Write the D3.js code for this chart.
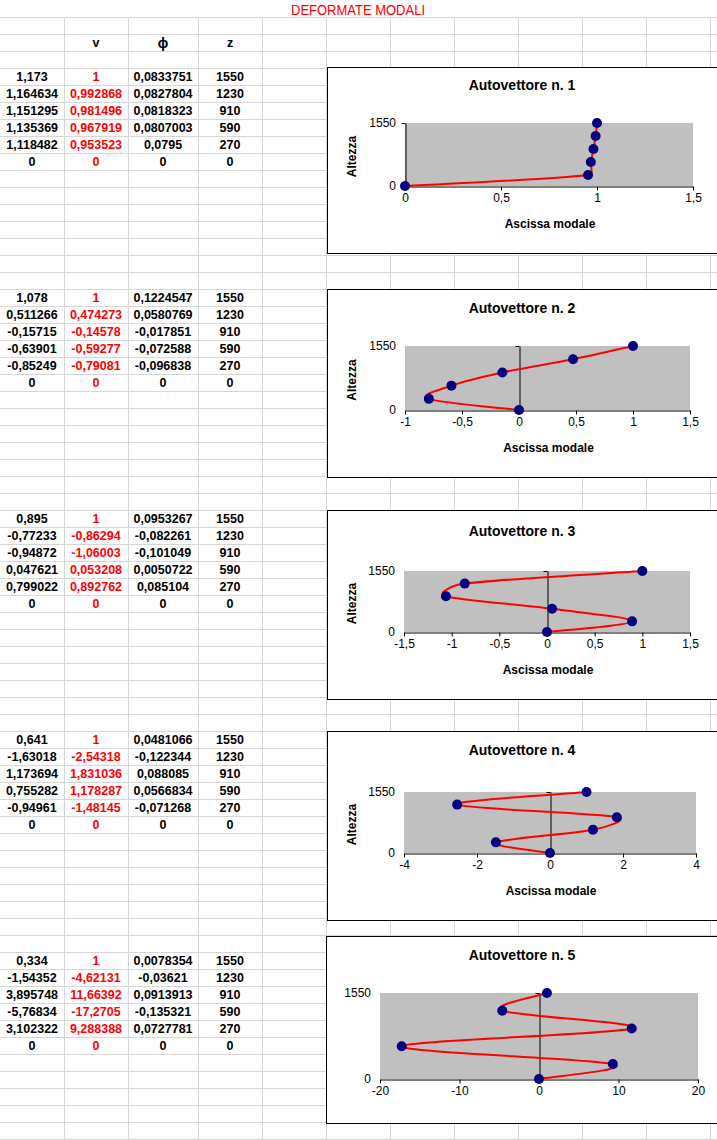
<!DOCTYPE html>
<html>
<head>
<meta charset="utf-8">
<script src="https://cdn.jsdelivr.net/npm/d3@7"></script>
<style>
  html, body { margin: 0; padding: 0; background: #ffffff; }
  svg { display: block; }
  text { font-family: "Liberation Sans", Arial, sans-serif; }
</style>
</head>
<body>
<script>
// ---------------- DATA ----------------
const pageTitle = "DEFORMATE MODALI";
const headerLabels = ["", "v", "\u03d5", "z"];
const heights = [1550, 1230, 910, 590, 270, 0];

const mode1A   = [1.173, 1.164634, 1.151295, 1.135369, 1.118482, 0];
const mode1V   = [1, 0.992868, 0.981496, 0.967919, 0.953523, 0];
const mode1Phi = [0.0833751, 0.0827804, 0.0818323, 0.0807003, 0.0795, 0];

const mode2A   = [1.078, 0.511266, -0.15715, -0.63901, -0.85249, 0];
const mode2V   = [1, 0.474273, -0.14578, -0.59277, -0.79081, 0];
const mode2Phi = [0.1224547, 0.0580769, -0.017851, -0.072588, -0.096838, 0];

const mode3A   = [0.895, -0.77233, -0.94872, 0.047621, 0.799022, 0];
const mode3V   = [1, -0.86294, -1.06003, 0.053208, 0.892762, 0];
const mode3Phi = [0.0953267, -0.082261, -0.101049, 0.0050722, 0.085104, 0];

const mode4A   = [0.641, -1.63018, 1.173694, 0.755282, -0.94961, 0];
const mode4V   = [1, -2.54318, 1.831036, 1.178287, -1.48145, 0];
const mode4Phi = [0.0481066, -0.122344, 0.088085, 0.0566834, -0.071268, 0];

const mode5A   = [0.334, -1.54352, 3.895748, -5.76834, 3.102322, 0];
const mode5V   = [1, -4.62131, 11.66392, -17.2705, 9.288388, 0];
const mode5Phi = [0.0078354, -0.03621, 0.0913913, -0.135321, 0.0727781, 0];

const chartTitles = ["Autovettore n. 1", "Autovettore n. 2", "Autovettore n. 3", "Autovettore n. 4", "Autovettore n. 5"];
const xTicks1 = [0, 0.5, 1, 1.5];
const xTicks2 = [-1, -0.5, 0, 0.5, 1, 1.5];
const xTicks3 = [-1.5, -1, -0.5, 0, 0.5, 1, 1.5];
const xTicks4 = [-4, -2, 0, 2, 4];
const xTicks5 = [-20, -10, 0, 10, 20];
const yTicks = [0, 1550];
const xAxisTitle = "Ascissa modale";
const yAxisTitle = "Altezza";

// ---------------- LAYOUT ----------------
const W = 717, H = 1140;
const ROW = 17;
const colLines = [64, 128, 198, 262, 326, 390, 454, 518, 582, 646, 710];
const colCenters = [32, 96, 163, 230];
const blockStartRows = [5, 18, 31, 44, 57];

const modes = [
  {A: mode1A, V: mode1V, P: mode1Phi, ticks: xTicks1},
  {A: mode2A, V: mode2V, P: mode2Phi, ticks: xTicks2},
  {A: mode3A, V: mode3V, P: mode3Phi, ticks: xTicks3},
  {A: mode4A, V: mode4V, P: mode4Phi, ticks: xTicks4},
  {A: mode5A, V: mode5V, P: mode5Phi, ticks: xTicks5}
];

const chartLayout = [
  {bx: 327, by: 67,  bh: 186, pl: 405, pr: 693, pt: 123, pb: 186, ty: 85,  axisTitles: true},
  {bx: 327, by: 289, bh: 188, pl: 405, pr: 690, pt: 346, pb: 410, ty: 308, axisTitles: true},
  {bx: 327, by: 510, bh: 189, pl: 404, pr: 690, pt: 571, pb: 632, ty: 531, axisTitles: true},
  {bx: 327, by: 731, bh: 189, pl: 404, pr: 696, pt: 792, pb: 853, ty: 750, axisTitles: true},
  {bx: 326, by: 936, bh: 187, pl: 380, pr: 698, pt: 993, pb: 1079, ty: 955, axisTitles: false}
];

const fmt = d => String(d).replace(".", ",");
const rowCenter = r => ROW * (r - 1) + 9;

// Spreadsheet-style smoothed line (Bezier with 1/6 tangents, limited to half a segment)
function smoothPath(P) {
  const p = d3.path();
  const dist = (a, b) => Math.hypot(b[0] - a[0], b[1] - a[1]);
  p.moveTo(P[0][0], P[0][1]);
  for (let i = 0; i < P.length - 1; i++) {
    const P0 = P[Math.max(i - 1, 0)], P1 = P[i], P2 = P[i + 1], P3 = P[Math.min(i + 2, P.length - 1)];
    const d12 = dist(P1, P2), d02 = dist(P0, P2), d13 = dist(P1, P3);
    let f1 = 1 / 6, f2 = 1 / 6;
    if (d02 / 6 > d12 / 2 && d02 > 0) f1 = d12 / (2 * d02);
    if (d13 / 6 > d12 / 2 && d13 > 0) f2 = d12 / (2 * d13);
    const c1 = [P1[0] + f1 * (P2[0] - P0[0]), P1[1] + f1 * (P2[1] - P0[1])];
    const c2 = [P2[0] - f2 * (P3[0] - P1[0]), P2[1] - f2 * (P3[1] - P1[1])];
    p.bezierCurveTo(c1[0], c1[1], c2[0], c2[1], P2[0], P2[1]);
  }
  return p.toString();
}

const svg = d3.select("body").append("svg").attr("width", W).attr("height", H);
svg.append("rect").attr("width", W).attr("height", H).attr("fill", "#fff");

// ---------------- SPREADSHEET GRID ----------------
const grid = svg.append("g").attr("stroke", "#d6d6d6").attr("stroke-width", 1);
d3.range(1, Math.ceil(H / ROW) + 1).forEach(k => {
  grid.append("line").attr("x1", 0).attr("x2", W).attr("y1", ROW * k + 0.5).attr("y2", ROW * k + 0.5);
});
colLines.forEach(x => {
  grid.append("line").attr("x1", x + 0.5).attr("x2", x + 0.5).attr("y1", ROW).attr("y2", H);
});

// title
svg.append("text").attr("x", 358).attr("y", 9).attr("text-anchor", "middle")
  .attr("dominant-baseline", "central").attr("fill", "#ff0000")
  .attr("font-size", 15.5).attr("textLength", 134).attr("lengthAdjust", "spacingAndGlyphs")
  .text(pageTitle);

// header
headerLabels.forEach((h, i) => {
  if (!h) return;
  svg.append("text").attr("x", colCenters[i]).attr("y", rowCenter(3))
    .attr("text-anchor", "middle").attr("dominant-baseline", "central")
    .attr("font-weight", "bold").attr("font-size", i === 2 ? 14 : 12.5)
    .attr("font-family", i === 2 ? "DejaVu Sans" : null)
    .text(h);
});

// table values
modes.forEach((m, bi) => {
  const r0 = blockStartRows[bi];
  heights.forEach((z, j) => {
    const cy = rowCenter(r0 + j);
    const cells = [m.A[j], m.V[j], m.P[j], z];
    cells.forEach((val, c) => {
      svg.append("text").attr("x", colCenters[c]).attr("y", cy)
        .attr("text-anchor", "middle").attr("dominant-baseline", "central")
        .attr("font-weight", "bold").attr("font-size", 12.5)
        .attr("fill", c === 1 ? "#ff0000" : "#000")
        .text(fmt(val));
    });
  });
});

// ---------------- CHARTS ----------------
modes.forEach((m, i) => {
  const L = chartLayout[i];
  const g = svg.append("g");
  g.append("rect").attr("x", L.bx + 0.5).attr("y", L.by + 0.5)
    .attr("width", W - L.bx + 20).attr("height", L.bh)
    .attr("fill", "#fff").attr("stroke", "#000").attr("stroke-width", 1);

  const ticks = m.ticks;
  const x = d3.scaleLinear().domain([ticks[0], ticks[ticks.length - 1]]).range([L.pl, L.pr]);
  const y = d3.scaleLinear().domain([0, 1550]).range([L.pb, L.pt]);

  g.append("rect").attr("x", L.pl).attr("y", L.pt).attr("width", L.pr - L.pl).attr("height", L.pb - L.pt)
    .attr("fill", "#c0c0c0");

  // x axis
  const xa = g.append("g").attr("transform", `translate(0,${L.pb + 0.5})`)
    .call(d3.axisBottom(x).tickValues(ticks).tickFormat(fmt).tickSize(4).tickSizeOuter(0).tickPadding(3));
  xa.attr("font-size", 12).attr("font-family", "Liberation Sans, Arial, sans-serif");
  xa.selectAll("path,line").attr("stroke", "#000");
  xa.selectAll("text").attr("fill", "#000");

  // y axis line at x = 0
  const ya = g.append("g").attr("transform", `translate(${Math.round(x(0)) + 0.5},0)`)
    .call(d3.axisLeft(y).tickValues(yTicks).tickFormat("").tickSize(4).tickSizeOuter(0));
  ya.selectAll("path,line").attr("stroke", "#000");

  // y labels at left of plot area
  g.selectAll(".ylab").data(yTicks).enter().append("text")
    .attr("x", L.pl - 9).attr("y", d => y(d)).attr("text-anchor", "end")
    .attr("dominant-baseline", "central").attr("font-size", 12).attr("fill", "#000")
    .text(fmt);

  // line
  const pts = heights.map((z, j) => [m.V[j], z]);
  const screenPts = pts.map(d => [x(d[0]), y(d[1])]);
  g.append("path").attr("d", smoothPath(screenPts)).attr("fill", "none")
    .attr("stroke", "#ff0000").attr("stroke-width", 2);

  g.selectAll(".pt").data(pts).enter().append("circle")
    .attr("cx", d => x(d[0])).attr("cy", d => y(d[1])).attr("r", 5)
    .attr("fill", "#000080");

  // titles
  g.append("text").attr("x", 522).attr("y", L.ty).attr("text-anchor", "middle")
    .attr("dominant-baseline", "central").attr("font-weight", "bold").attr("font-size", 14)
    .text(chartTitles[i]);

  if (L.axisTitles) {
    g.append("text").attr("x", (L.pl + L.pr) / 2 + 1).attr("y", L.pb + 38)
      .attr("text-anchor", "middle").attr("dominant-baseline", "central")
      .attr("font-weight", "bold").attr("font-size", 12).text(xAxisTitle);
    const cy = (L.pt + L.pb) / 2 + 2;
    g.append("text").attr("transform", `translate(352,${cy}) rotate(-90)`)
      .attr("text-anchor", "middle").attr("dominant-baseline", "central")
      .attr("font-weight", "bold").attr("font-size", 12).text(yAxisTitle);
  }
});
</script>
</body>
</html>
